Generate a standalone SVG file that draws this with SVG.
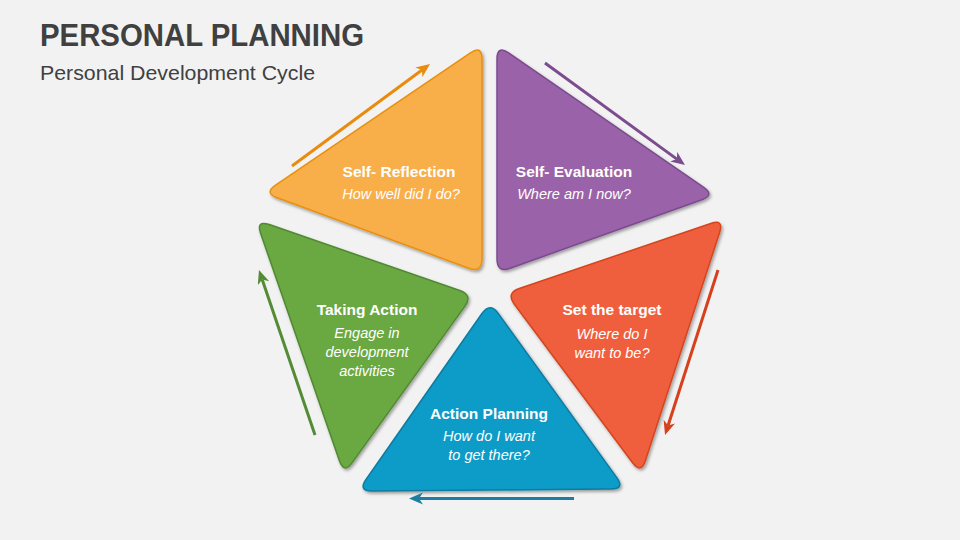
<svg xmlns="http://www.w3.org/2000/svg" width="960" height="540" viewBox="0 0 960 540">
<style>
.title{font-family:"Liberation Sans",Arial,sans-serif;font-weight:bold;fill:#404040}
.sub{font-family:"Liberation Sans",Arial,sans-serif;fill:#404040}
.h{font-family:"Liberation Sans",Arial,sans-serif;font-weight:bold;font-size:15.5px;fill:#fff;text-anchor:middle}
.q{font-family:"Liberation Sans",Arial,sans-serif;font-style:italic;font-size:14.5px;fill:#fff;text-anchor:middle}
.tri{stroke-width:1.5;filter:url(#sh)}
.arr{stroke-width:3;fill:none}
</style>
<defs>
<filter id="sh" x="-10%" y="-10%" width="120%" height="120%">
<feDropShadow dx="1.5" dy="2" stdDeviation="1.8" flood-color="#000" flood-opacity="0.35"/>
</filter>
<marker id="mO" markerUnits="userSpaceOnUse" markerWidth="16" markerHeight="14" refX="4" refY="6" orient="auto"><path d="M0,0 L14,6 L0,12 L4,6 Z" fill="#E98B0E"/></marker>
<marker id="mP" markerUnits="userSpaceOnUse" markerWidth="16" markerHeight="14" refX="4" refY="6" orient="auto"><path d="M0,0 L14,6 L0,12 L4,6 Z" fill="#7D4B8F"/></marker>
<marker id="mR" markerUnits="userSpaceOnUse" markerWidth="16" markerHeight="14" refX="4" refY="6" orient="auto"><path d="M0,0 L14,6 L0,12 L4,6 Z" fill="#D7401C"/></marker>
<marker id="mB" markerUnits="userSpaceOnUse" markerWidth="16" markerHeight="14" refX="4" refY="6" orient="auto"><path d="M0,0 L14,6 L0,12 L4,6 Z" fill="#1A7FA3"/></marker>
<marker id="mG" markerUnits="userSpaceOnUse" markerWidth="16" markerHeight="14" refX="4" refY="6" orient="auto"><path d="M0,0 L14,6 L0,12 L4,6 Z" fill="#548B36"/></marker>
</defs>
<rect width="960" height="540" fill="#F2F2F2"/>
<text class="title" x="40" y="46" font-size="31" textLength="324" lengthAdjust="spacingAndGlyphs">PERSONAL PLANNING</text>
<text class="sub" x="40" y="80" font-size="21" textLength="275" lengthAdjust="spacingAndGlyphs">Personal Development Cycle</text>

<g id="self-reflection">
<path class="tri" fill="#F8AE4A" stroke="#E8900E" d="M482,59 L482,259 Q482,273 468.86,268.18 L277.14,197.82 Q264,193 275.58,185.14 L470.42,52.86 Q482,45 482,59 Z"/>
<text class="h" x="399" y="177">Self- Reflection</text>
<text class="q" x="401" y="199">How well did I do?</text>
</g>
<g id="self-evaluation">
<path class="tri" fill="#9A62A8" stroke="#7C4A8E" d="M497,59 L497,259 Q497,273 510.14,268.18 L701.86,199.82 Q715,195 703.42,187.14 L508.58,52.86 Q497,45 497,59 Z"/>
<text class="h" x="574" y="177">Self- Evaluation</text>
<text class="q" x="574" y="199">Where am I now?</text>
</g>
<g id="set-target">
<path class="tri" fill="#F05F3C" stroke="#D5441F" d="M719.67,232.31 L645.33,460.69 Q641,474 632.63,462.78 L514.37,304.22 Q506,293 519.26,288.5 L710.74,223.5 Q724,219 719.67,232.31 Z"/>
<text class="h" x="612" y="315">Set the target</text>
<text class="q" x="612" y="339">Where do I</text>
<text class="q" x="612" y="358">want to be?</text>
</g>
<g id="action-planning">
<path class="tri" fill="#0A9BC8" stroke="#0A7CA0" d="M498.2,313.35 L616.8,477.65 Q625,489 611,489.1 L372,490.9 Q358,491 366.02,479.52 L481.98,313.48 Q490,302 498.2,313.35 Z"/>
<text class="h" x="489" y="419">Action Planning</text>
<text class="q" x="489" y="441">How do I want</text>
<text class="q" x="489" y="460">to get there?</text>
</g>
<g id="taking-action">
<path class="tri" fill="#6AA842" stroke="#4F8A30" d="M269.23,224.57 L459.77,290.43 Q473,295 464.81,306.36 L352.19,462.64 Q344,474 339.42,460.77 L260.58,233.23 Q256,220 269.23,224.57 Z"/>
<text class="h" x="367" y="315">Taking Action</text>
<text class="q" x="367" y="338">Engage in</text>
<text class="q" x="367" y="357">development</text>
<text class="q" x="367" y="376">activities</text>
</g>

<g id="connectors">
<line class="arr" stroke="#E98B0E" x1="292" y1="166" x2="422" y2="70" marker-end="url(#mO)"/>
<line class="arr" stroke="#7D4B8F" x1="545" y1="63" x2="676.9" y2="159.1" marker-end="url(#mP)"/>
<line class="arr" stroke="#D7401C" x1="718" y1="270" x2="668.1" y2="425.5" marker-end="url(#mR)"/>
<line class="arr" stroke="#1A7FA3" x1="574" y1="498.5" x2="419" y2="498.5" marker-end="url(#mB)"/>
<line class="arr" stroke="#548B36" x1="315" y1="435" x2="262.2" y2="279.5" marker-end="url(#mG)"/>
</g>
</svg>
